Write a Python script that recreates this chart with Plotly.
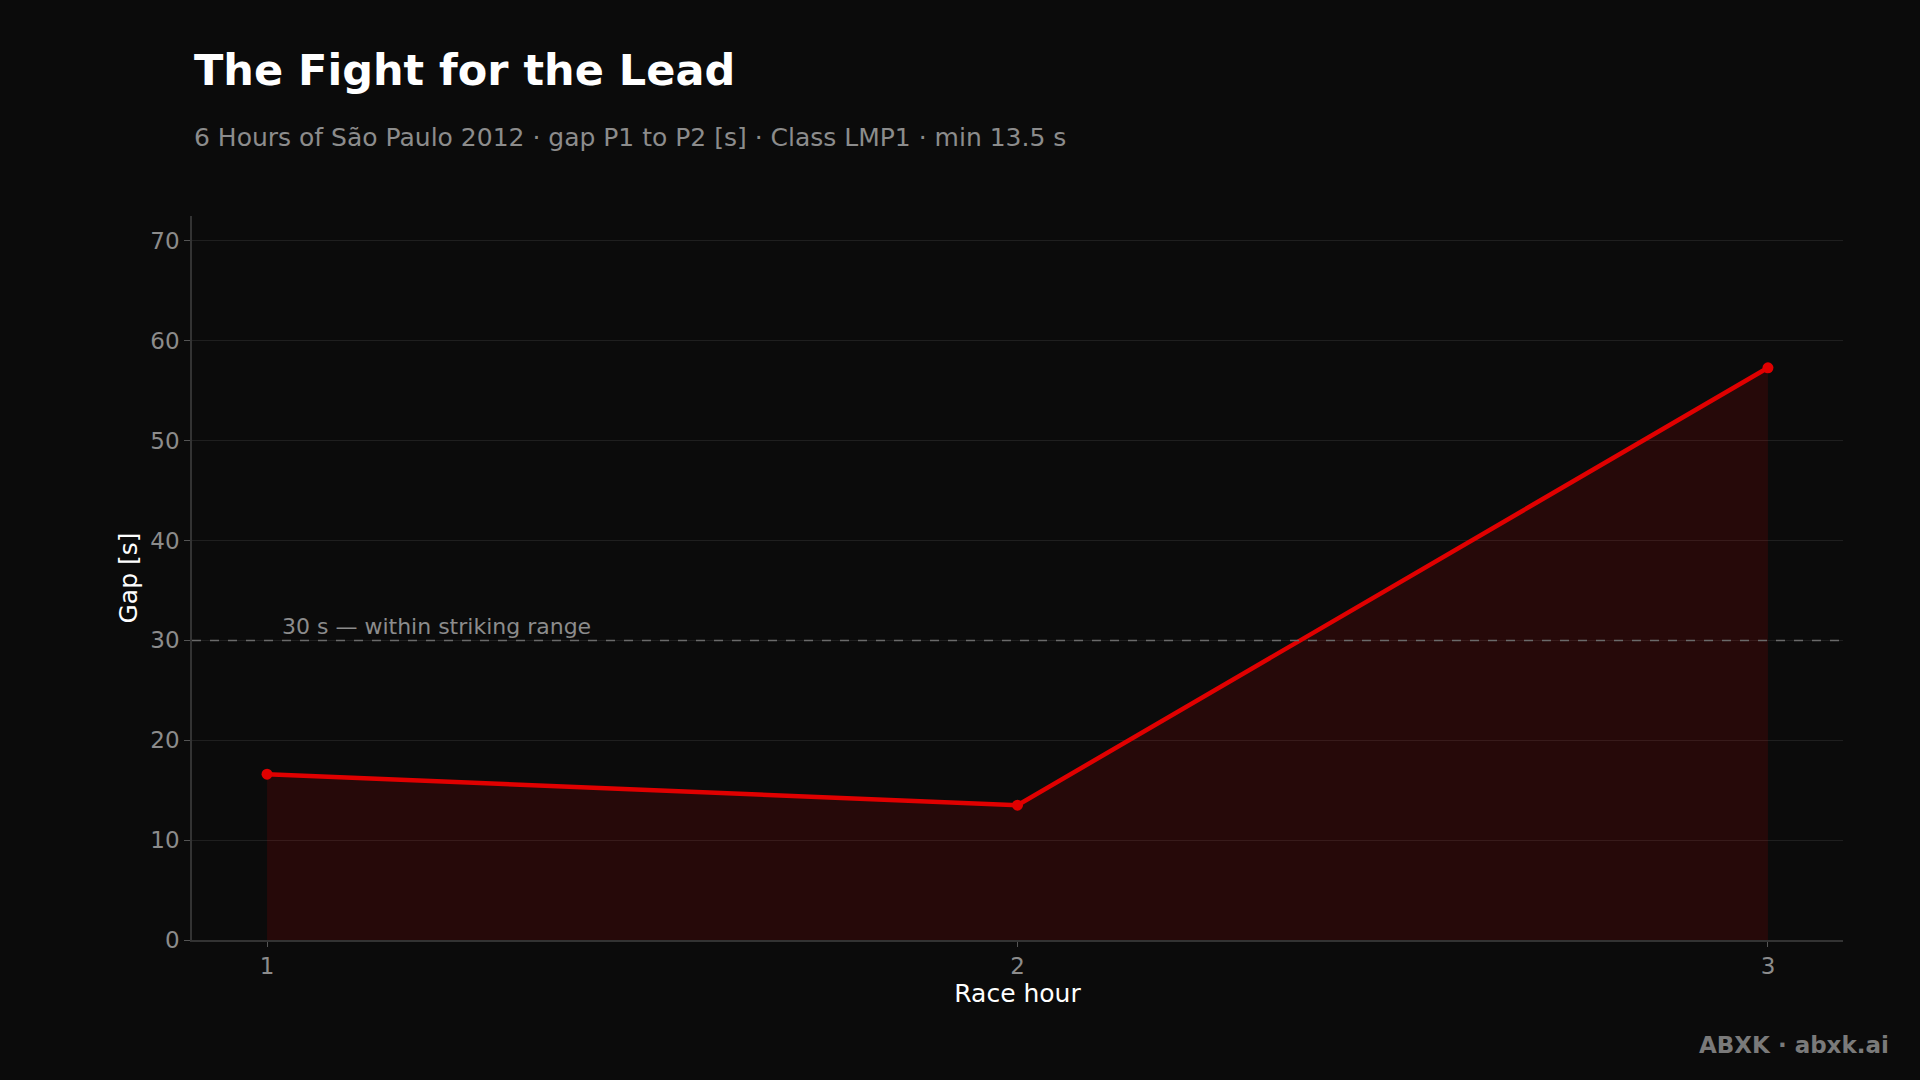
import plotly.graph_objects as go

# Data
race_hour = [1, 2, 3]
gap_s = [16.6, 13.5, 57.3]
threshold = 30
y_ticks = [0, 10, 20, 30, 40, 50, 60, 70]
x_ticks = [1, 2, 3]

title_text = "The Fight for the Lead"
subtitle_text = "6 Hours of São Paulo 2012 · gap P1 to P2 [s] · Class LMP1 · min 13.5 s"
threshold_label = "30 s — within striking range"
brand_text = "ABXK · abxk.ai"

BG = "#0b0b0b"
RED = "#e00000"
FONT = "DejaVu Sans"

fig = go.Figure()

fig.add_trace(go.Scatter(
    x=race_hour, y=gap_s,
    mode="lines+markers",
    line=dict(color=RED, width=4.5),
    marker=dict(color=RED, size=11),
    fill="tozeroy",
    fillcolor="rgba(224,0,0,0.13)",
    showlegend=False,
    hoverinfo="skip",
))

fig.add_shape(
    type="line", xref="paper", yref="y",
    x0=0, x1=1, y0=threshold, y1=threshold,
    line=dict(color="#6a6a6a", width=1.5, dash="dash"),
    layer="above",
)

fig.add_annotation(
    x=1.017, y=threshold, xref="x", yref="y",
    text=threshold_label, showarrow=False,
    xanchor="left", yanchor="bottom", yshift=-1,
    font=dict(family=FONT, size=22, color="#8c8c8c"),
)

fig.add_annotation(
    x=0, y=1.2017, xref="paper", yref="paper",
    text="<b>" + title_text + "</b>", showarrow=False,
    xanchor="left", yanchor="middle",
    font=dict(family=FONT, size=43, color="#ffffff"),
)
fig.add_annotation(
    x=0, y=1.1084, xref="paper", yref="paper",
    text=subtitle_text, showarrow=False,
    xanchor="left", yanchor="middle",
    font=dict(family=FONT, size=25, color="#8c8c8c"),
)
fig.add_annotation(
    x=1.029, y=-0.145, xref="paper", yref="paper",
    text="<b>" + brand_text + "</b>", showarrow=False,
    xanchor="right", yanchor="middle",
    font=dict(family=FONT, size=23, color="#7a7a7a"),
)

fig.update_layout(
    width=1920, height=1080,
    paper_bgcolor=BG, plot_bgcolor=BG,
    margin=dict(l=192, r=77, t=216, b=140),
    font=dict(family=FONT, color="#8c8c8c"),
    showlegend=False,
)

fig.update_xaxes(
    range=[0.9, 3.1],
    tickvals=x_ticks,
    ticktext=[str(v) for v in x_ticks],
    showgrid=False,
    zeroline=False,
    showline=True, linecolor="#333333", linewidth=1.5,
    ticks="outside", ticklen=5, tickcolor="#555555",
    tickfont=dict(family=FONT, size=23, color="#8c8c8c"),
    title=dict(text="Race hour", font=dict(family=FONT, size=25, color="#ffffff"), standoff=5),
)
fig.update_yaxes(
    range=[0, 72.5],
    tickvals=y_ticks,
    showgrid=True, gridcolor="#1f1f1f", gridwidth=1,
    zeroline=False,
    showline=True, linecolor="#333333", linewidth=1.5,
    ticks="outside", ticklen=6, tickcolor="#555555",
    tickfont=dict(family=FONT, size=23, color="#8c8c8c"),
    title=dict(text="Gap [s]", font=dict(family=FONT, size=25, color="#ffffff"), standoff=6),
)

fig.write_html(
    "out.html",
    config={"displayModeBar": False},
    post_script="document.body.style.margin='0';document.body.style.padding='0';document.body.style.background='#0b0b0b';",
)
